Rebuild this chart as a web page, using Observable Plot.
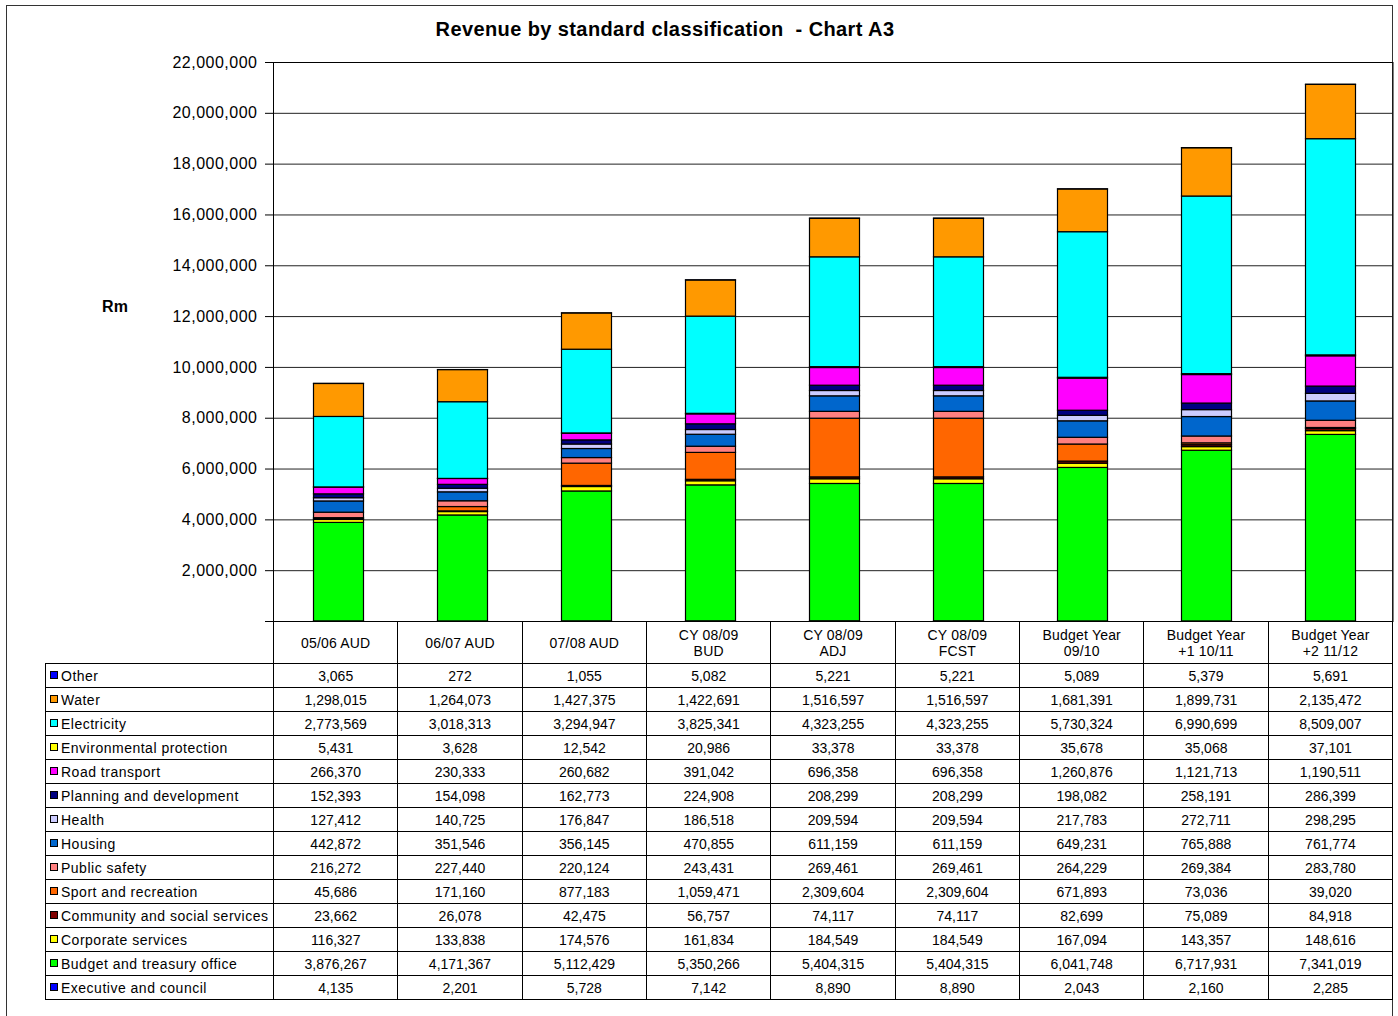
<!DOCTYPE html>
<html>
<head>
<meta charset="utf-8">
<script src="https://cdn.jsdelivr.net/npm/d3@7"></script>
<script src="https://cdn.jsdelivr.net/npm/@observablehq/plot@0.6"></script>
<style>
  body { margin: 0; background: #fff; font-family: "Liberation Sans", Arial, sans-serif; }
  #chart { position: relative; width: 1398px; height: 1016px; overflow: hidden; background: #fff; }
  #border { position: absolute; left: 6px; top: 5px; width: 1387px; height: 1060px; border: 1px solid #333; box-sizing: border-box; }
  #title { position: absolute; top: 18px; left: 0; width: 1330px; text-align: center; font-weight: bold; font-size: 20px; letter-spacing: 0.4px; color: #000; }
  #unit { position: absolute; left: 90px; width: 50px; top: 298px; text-align: center; font-weight: bold; font-size: 16px; }
  #plot { position: absolute; left: 0; top: 0; }
  #plot svg g[aria-label="y-axis tick label"] text { letter-spacing: 0.5px; }
  #table { position: absolute; left: 45px; top: 621px; border-collapse: collapse; table-layout: fixed; font-size: 14px; color: #000; }
  #table td { border: 1px solid #000; padding: 0; text-align: center; height: 23px; line-height: 16px; white-space: nowrap; overflow: hidden; }
  #table tr.head td { height: 41px; white-space: pre-line; letter-spacing: 0.2px; }
  #table tr.head td.blank { border-top: none; border-left: none; }
  #table td.name { text-align: left; padding-left: 4px; letter-spacing: 0.5px; }
  #table .sw { display: inline-block; width: 6px; height: 6px; border: 1px solid #000; margin-right: 3px; vertical-align: 2px; }
</style>
</head>
<body>
<div id="chart">
  <div id="border"></div>
  <div id="title">Revenue by standard classification&nbsp; - Chart A3</div>
  <div id="unit">Rm</div>
  <div id="plot"></div>
</div>
<script>
// Reporting periods (x categories, also the table header)
const periods = ["05/06 AUD", "06/07 AUD", "07/08 AUD", "CY 08/09\nBUD", "CY  08/09\nADJ",
  "CY 08/09\nFCST", "Budget Year\n09/10", "Budget Year\n+1 10/11", "Budget Year\n+2 11/12"];

// Revenue per classification, one value per period (R thousand)
const executiveCouncil = [4135, 2201, 5728, 7142, 8890, 8890, 2043, 2160, 2285];
const budgetTreasury   = [3876267, 4171367, 5112429, 5350266, 5404315, 5404315, 6041748, 6717931, 7341019];
const corporate        = [116327, 133838, 174576, 161834, 184549, 184549, 167094, 143357, 148616];
const community        = [23662, 26078, 42475, 56757, 74117, 74117, 82699, 75089, 84918];
const sport            = [45686, 171160, 877183, 1059471, 2309604, 2309604, 671893, 73036, 39020];
const publicSafety     = [216272, 227440, 220124, 243431, 269461, 269461, 264229, 269384, 283780];
const housing          = [442872, 351546, 356145, 470855, 611159, 611159, 649231, 765888, 761774];
const health           = [127412, 140725, 176847, 186518, 209594, 209594, 217783, 272711, 298295];
const planning         = [152393, 154098, 162773, 224908, 208299, 208299, 198082, 258191, 286399];
const road             = [266370, 230333, 260682, 391042, 696358, 696358, 1260876, 1121713, 1190511];
const environmental    = [5431, 3628, 12542, 20986, 33378, 33378, 35678, 35068, 37101];
const electricity      = [2773569, 3018313, 3294947, 3825341, 4323255, 4323255, 5730324, 6990699, 8509007];
const water            = [1298015, 1264073, 1427375, 1422691, 1516597, 1516597, 1681391, 1899731, 2135472];
const other            = [3065, 272, 1055, 5082, 5221, 5221, 5089, 5379, 5691];

// Series names in stacking order, bottom to top
const seriesNames = ["Executive and council", "Budget and treasury office", "Corporate services",
  "Community and social services", "Sport and recreation", "Public safety", "Housing", "Health",
  "Planning and development", "Road transport", "Environmental protection", "Electricity", "Water", "Other"];
const seriesValues = [executiveCouncil, budgetTreasury, corporate, community, sport, publicSafety,
  housing, health, planning, road, environmental, electricity, water, other];
const seriesColors = ["#0000FF", "#00FF00", "#FFFF00", "#800000", "#FF6600", "#FF8080", "#0066CC",
  "#CCCCFF", "#000080", "#FF00FF", "#FFFF00", "#00FFFF", "#FF9900", "#0000FF"];

// Y axis ticks
const yTicks = d3.range(0, 22000001, 2000000);

const rows = [];
seriesNames.forEach((s, i) => periods.forEach((p, j) => rows.push({period: p, series: s, value: seriesValues[i][j]})));

const fmt = d3.format(",");
const padIn = 0.6;

const plot = Plot.plot({
  width: 1398,
  height: 622,
  marginTop: 62,
  marginBottom: 1,
  marginLeft: 273,
  marginRight: 5.5,
  style: {fontFamily: "Liberation Sans, Arial, sans-serif", fontSize: "16px", background: "transparent", color: "#000"},
  x: {domain: periods, paddingInner: padIn, paddingOuter: padIn / 2, align: 0.5, axis: null},
  y: {domain: [0, 22000000], axis: null},
  color: {type: "ordinal", domain: seriesNames, range: seriesColors},
  marks: [
    Plot.ruleY(yTicks, {stroke: "#222", strokeWidth: 1}),
    Plot.barY(rows, {x: "period", y: "value", fill: "series", order: seriesNames,
      stroke: "#000", strokeWidth: 1.2, dx: 1.5}),
    Plot.frame({stroke: "#000"}),
    Plot.axisY({ticks: yTicks, tickFormat: d => d === 0 ? "" : fmt(d), tickSize: 8, tickPadding: 8,
      fontSize: 16, label: null, stroke: "#000"})
  ]
});
document.getElementById("plot").appendChild(plot);

// Data table under the chart, columns aligned with the x bands
const xs = plot.scale("x");
const step = xs.step ?? (xs.range[1] - xs.range[0]) / periods.length;
const bw = xs.bandwidth ?? step * (1 - padIn);
const cellLeft = xs.apply(periods[0]) - (step - bw) / 2;
const tableLeft = 45;
const firstCol = cellLeft - tableLeft - 2;
const colW = step + 0.35;

const table = d3.select("#chart").append("table").attr("id", "table");
const cg = table.append("colgroup");
cg.append("col").style("width", firstCol + "px");
periods.forEach(() => cg.append("col").style("width", colW + "px"));
table.style("width", (firstCol + colW * periods.length) + "px");

const head = table.append("tr").attr("class", "head");
head.append("td").attr("class", "blank");
periods.forEach(p => head.append("td").text(p));

for (let i = seriesNames.length - 1; i >= 0; i--) {
  const tr = table.append("tr");
  const nameCell = tr.append("td").attr("class", "name");
  nameCell.append("span").attr("class", "sw").style("background", seriesColors[i]);
  nameCell.append("span").text(seriesNames[i]);
  seriesValues[i].forEach(v => tr.append("td").text(fmt(v)));
}
</script>
</body>
</html>
